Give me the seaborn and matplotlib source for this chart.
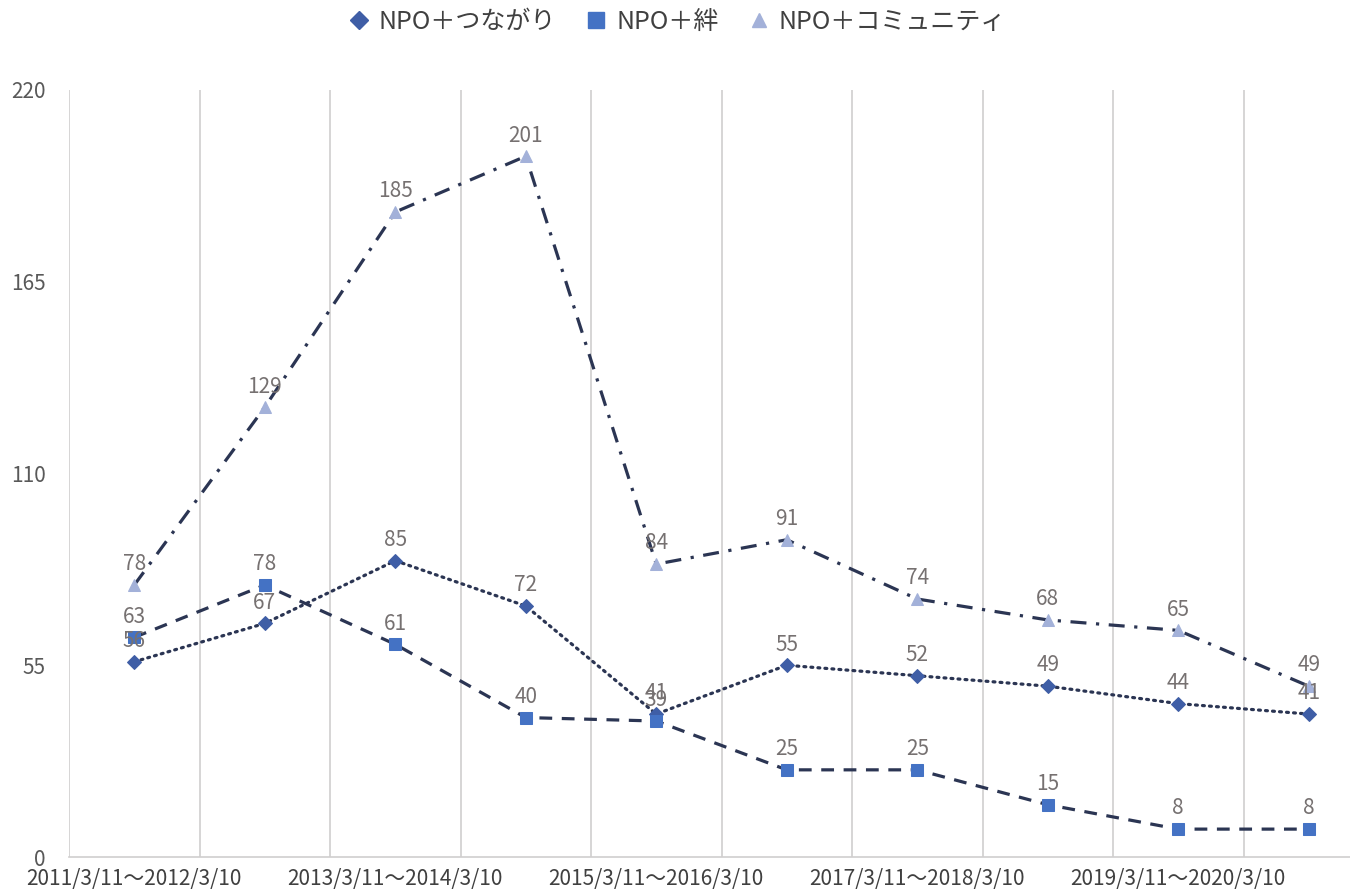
import numpy as np
import pandas as pd
import matplotlib
matplotlib.use('Agg')
import matplotlib.pyplot as plt
import seaborn as sns
from matplotlib.lines import Line2D

# データ
periods = ['2011/3/11〜2012/3/10', '2012/3/11〜2013/3/10', '2013/3/11〜2014/3/10',
           '2014/3/11〜2015/3/10', '2015/3/11〜2016/3/10', '2016/3/11〜2017/3/10',
           '2017/3/11〜2018/3/10', '2018/3/11〜2019/3/10', '2019/3/11〜2020/3/10',
           '2020/3/11〜2021/3/10']
tsunagari = [56, 67, 85, 72, 41, 55, 52, 49, 44, 41]
kizuna = [63, 78, 61, 40, 39, 25, 25, 15, 8, 8]
community = [78, 129, 185, 201, 84, 91, 74, 68, 65, 49]
series_names = ['NPO＋つながり', 'NPO＋絆', 'NPO＋コミュニティ']
y_ticks = [0, 55, 110, 165, 220]

sns.set_theme(style='white')
plt.rcParams['font.family'] = ['Noto Sans CJK JP', 'DejaVu Sans']

line_col = '#2b3553'
label_col = '#767171'
styles = [
    dict(marker='D', ms=7, mfc='#3f5ea6', ls=(0, (0.6, 1.6)), dash_capstyle='round'),
    dict(marker='s', ms=9, mfc='#4472c4', ls=(0, (4, 3))),
    dict(marker='^', ms=8, mfc='#a3b1d9', ls=(0, (5, 3, 1, 3))),
]

fig = plt.figure(figsize=(13.5, 8.92), dpi=100)
ax = fig.add_axes([69 / 1350, 35 / 892, 1305 / 1350, 767 / 892])

x = np.arange(len(periods))
for name, vals, st in zip(series_names, [tsunagari, kizuna, community], styles):
    df = pd.DataFrame({'x': x, 'y': vals})
    sns.lineplot(data=df, x='x', y='y', ax=ax, color=line_col, lw=2.3,
                 linestyle=st['ls'], marker=st['marker'], markersize=st['ms'],
                 markerfacecolor=st['mfc'], markeredgecolor=st['mfc'],
                 **({'dash_capstyle': st['dash_capstyle']} if 'dash_capstyle' in st else {}))
    for xi, yi in zip(x, vals):
        ax.annotate(str(yi), (xi, yi), xytext=(0, 7), textcoords='offset points',
                    ha='center', va='bottom', fontsize=15, color=label_col)

ax.set_xlim(-0.5, len(periods) - 0.5)
ax.set_ylim(0, 220)
ax.set_yticks(y_ticks)
ax.set_yticklabels([str(t) for t in y_ticks], fontsize=15, color='#595959')
ax.set_xticks(x[::2])
ax.set_xticklabels(periods[::2], fontsize=15, color='#404040')
ax.tick_params(axis='x', length=0, pad=8)
ax.tick_params(axis='y', length=0, pad=17)
for b in np.arange(-0.5, len(periods), 1.0):
    ax.axvline(b, color='#d0cece', lw=1.2, zorder=0)
for s in ['top', 'right', 'left']:
    ax.spines[s].set_visible(False)
ax.spines['bottom'].set_color('#d0cece')
ax.spines['bottom'].set_linewidth(1.2)
ax.set_xlabel('')
ax.set_ylabel('')

handles = [Line2D([], [], ls='none', marker=st['marker'], ms=st['ms'] + 2,
                  mfc=st['mfc'], mec=st['mfc']) for st in styles]
fig.legend(handles, series_names, loc='center', bbox_to_anchor=(0.5, 1 - 22 / 892),
           ncol=3, frameon=False, fontsize=18, handletextpad=0.2, columnspacing=1.0,
           handlelength=1.2, labelcolor='#404040')

fig.savefig('out.png', dpi=100)
